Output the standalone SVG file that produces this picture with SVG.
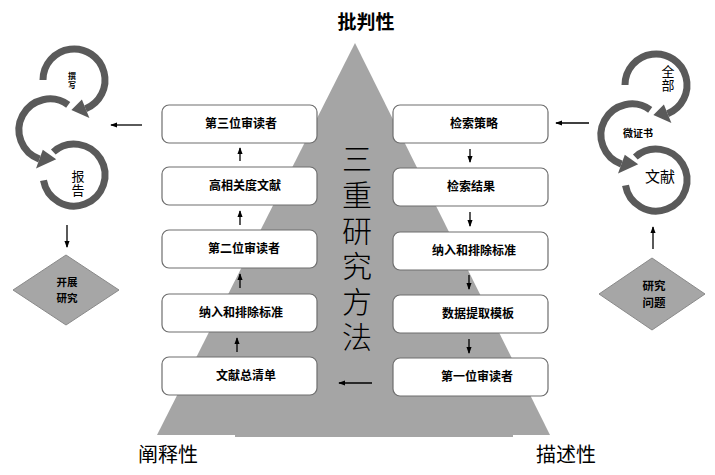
<svg xmlns="http://www.w3.org/2000/svg" width="715" height="475" viewBox="0 0 715 475">
<style>
  text { font-family: "Noto Sans CJK SC", "Noto Sans", sans-serif; fill: #000; }
  .box { fill: #fff; stroke: #6e6e6e; stroke-width: 1.2; }
  .bt { font-size: 12px; font-weight: bold; text-anchor: middle; }
  .ring { fill: none; stroke: #5a5a5a; stroke-width: 7; stroke-linecap: butt; }
  .head { fill: #5a5a5a; }
  .dia { fill: #a6a6a6; stroke: #8a8a8a; stroke-width: 1; }
  .con { stroke: #000; stroke-width: 1.3; fill: none; marker-end: url(#ah); }
  .corner { font-size: 20px; text-anchor: middle; }
  .vert { writing-mode: vertical-rl; text-orientation: upright; }
</style>
<defs>
  <marker id="ah" viewBox="0 0 8 6" markerWidth="7" markerHeight="6" refX="7" refY="3" orient="auto" markerUnits="userSpaceOnUse">
    <path d="M0,0 L8,3 L0,6 z" fill="#000"/>
  </marker>
  <g id="rings">
    <path class="ring" d="M43,80 A31,31 0 1 1 85.6,108.7"/>
    <polygon class="head" points="81.9,99.5 89.4,118 71.4,109.9"/>
    <path class="ring" d="M68.2,104.9 A31,31 0 1 0 39.4,159.1"/>
    <polygon class="head" points="42.8,149.7 36,168.5 56.2,159.3"/>
    <path class="ring" d="M53.3,152 A31,31 0 1 1 43.5,180.4"/>
  </g>
</defs>

<g id="pyramid">
  <polygon points="355,43 550,435 157,435" fill="#a5a5a5"/>
  <rect x="235" y="433" width="278" height="4" fill="#a5a5a5"/>
</g>

<g id="title-top"><text class="corner" x="366" y="29" style="font-weight:bold;font-size:19px">批判性</text></g>
<g id="title-left"><text class="corner" x="168" y="462">阐释性</text></g>
<g id="title-right"><text class="corner" x="566" y="462">描述性</text></g>

<g id="center-text">
  <text class="vert" x="357" y="144" style="font-size:30px;font-weight:300;letter-spacing:5.6px">三重研究方法</text>
</g>

<g id="L1"><rect class="box" x="162" y="105" width="155" height="38" rx="7"/><text class="bt" x="241" y="128">第三位审读者</text></g>
<g id="L2"><rect class="box" x="162" y="167" width="155" height="38" rx="7"/><text class="bt" x="245" y="190">高相关度文献</text></g>
<g id="L3"><rect class="box" x="162" y="230" width="155" height="38" rx="7"/><text class="bt" x="244" y="253">第二位审读者</text></g>
<g id="L4"><rect class="box" x="162" y="294" width="155" height="38" rx="7"/><text class="bt" x="241" y="317">纳入和排除标准</text></g>
<g id="L5"><rect class="box" x="162" y="357" width="155" height="38" rx="7"/><text class="bt" x="246" y="380">文献总清单</text></g>

<g id="R1"><rect class="box" x="393" y="105" width="155" height="38" rx="7"/><text class="bt" x="474" y="128">检索策略</text></g>
<g id="R2"><rect class="box" x="393" y="168" width="155" height="38" rx="7"/><text class="bt" x="471" y="191">检索结果</text></g>
<g id="R3"><rect class="box" x="393" y="232" width="155" height="38" rx="7"/><text class="bt" x="474" y="255">纳入和排除标准</text></g>
<g id="R4"><rect class="box" x="393" y="295" width="155" height="38" rx="7"/><text class="bt" x="478" y="318">数据提取模板</text></g>
<g id="R5"><rect class="box" x="393" y="358" width="155" height="38" rx="7"/><text class="bt" x="477" y="381">第一位审读者</text></g>

<g id="icon-left">
  <use href="#rings"/>
  <text class="vert" x="72" y="72" style="font-size:8px;font-weight:bold;letter-spacing:1px">撰写</text>
  <text class="vert" x="78" y="170" style="font-size:13px;letter-spacing:1px">报告</text>
</g>

<g id="icon-right">
  <use href="#rings" transform="translate(582,5)"/>
  <text class="vert" x="668" y="65" style="font-size:13px;letter-spacing:1px">全部</text>
  <text x="638" y="137" style="font-size:10px;font-weight:bold" text-anchor="middle">微证书</text>
  <text x="660" y="182" style="font-size:15px" text-anchor="middle">文献</text>
</g>

<g id="diamond-left">
  <polygon class="dia" points="66,255 119,290 66,325 13,290"/>
  <text style="font-size:10.5px;font-weight:bold" text-anchor="middle"><tspan x="67" y="286">开展</tspan><tspan x="67" y="302">研究</tspan></text>
</g>
<g id="diamond-right">
  <polygon class="dia" points="652,258 705,294 652,330 599,294"/>
  <text style="font-size:11.5px;font-weight:bold" text-anchor="middle"><tspan x="654" y="290">研究</tspan><tspan x="654" y="307">问题</tspan></text>
</g>

<g id="connectors">
  <line class="con" x1="240" y1="161" x2="240" y2="148"/>
  <line class="con" x1="240" y1="225" x2="240" y2="211"/>
  <line class="con" x1="240" y1="288" x2="240" y2="274"/>
  <line class="con" x1="237" y1="352" x2="237" y2="338"/>
  <line class="con" x1="470" y1="149" x2="470" y2="162"/>
  <line class="con" x1="470" y1="212" x2="470" y2="226"/>
  <line class="con" x1="469" y1="275" x2="469" y2="289"/>
  <line class="con" x1="469" y1="339" x2="469" y2="353"/>
  <line class="con" x1="372" y1="383" x2="339" y2="383"/>
  <line class="con" x1="142" y1="125" x2="111" y2="125"/>
  <line class="con" x1="589" y1="123" x2="556" y2="123"/>
  <line class="con" x1="67" y1="225" x2="67" y2="247"/>
  <line class="con" x1="653" y1="249" x2="653" y2="227"/>
</g>
</svg>
